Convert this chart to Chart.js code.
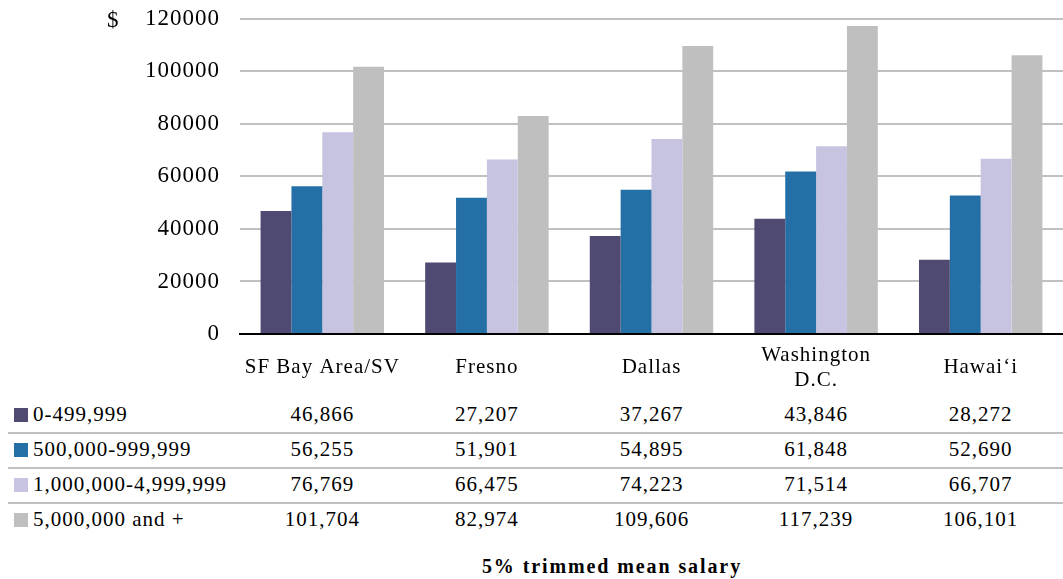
<!DOCTYPE html>
<html lang="en">
<head>
  <meta charset="UTF-8">
  <title>5% trimmed mean salary</title>
  <script src="https://cdn.jsdelivr.net/npm/chart.js"></script>
  <style>
    body { margin: 0; background: #fff; font-family: 'Liberation Serif', 'Times New Roman', serif; color: #000; }
    #wrap { position: relative; width: 1063px; height: 579px; overflow: hidden; }
    #chartBox { position: absolute; left: 0; top: -15px; width: 1063px; height: 410px; }
    .dollar { position: absolute; left: 107px; top: 7px; font-size: 23px; }
    .row { position: absolute; left: 8px; width: 1055px; height: 35px; }
    .row.sep { border-bottom: 2px solid #c0c0c0; }
    .cell { position: absolute; top: 0; line-height: 35px; font-size: 21px; letter-spacing: 1px; white-space: nowrap; }
    .swatch { position: absolute; left: 6px; top: 11px; width: 14px; height: 14px; }
    .label { left: 25px; }
    .val { transform: translateX(-50%); }
    .title { position: absolute; top: 555px; left: 0; width: 1224px; text-align: center; font-size: 20px; font-weight: bold; letter-spacing: 1.9px; }
  </style>
</head>
<body>
  <div id="wrap">
    <div id="chartBox"><canvas id="salaryChart"></canvas></div>
    <div class="dollar">$</div>
    <div id="table"></div>
    <div class="title">5% trimmed mean salary</div>
  </div>

  <script>
    const regions = ['SF Bay Area/SV', 'Fresno', 'Dallas', ['Washington', 'D.C.'], 'Hawai‘i'];
    const bands = ['0-499,999', '500,000-999,999', '1,000,000-4,999,999', '5,000,000 and +'];
    const band1 = [46866, 27207, 37267, 43846, 28272];
    const band2 = [56255, 51901, 54895, 61848, 52690];
    const band3 = [76769, 66475, 74223, 71514, 66707];
    const band4 = [101704, 82974, 109606, 117239, 106101];
    const colors = ['#4f4a71', '#2470a6', '#c7c4e2', '#bfbfbf'];
    const series = [band1, band2, band3, band4];

    const serif = "'Liberation Serif', 'Times New Roman', serif";

    const spacing = {
      id: 'spacing',
      beforeLayout: chart => { chart.ctx.letterSpacing = '1px'; },
      beforeDraw: chart => { chart.ctx.letterSpacing = '1px'; }
    };

    const chart = new Chart(document.getElementById('salaryChart').getContext('2d'), {
      type: 'bar',
      data: {
        labels: regions,
        datasets: series.map((values, i) => ({
          label: bands[i],
          data: values,
          backgroundColor: colors[i],
          categoryPercentage: 0.75,
          barPercentage: 1
        }))
      },
      options: {
        responsive: true,
        maintainAspectRatio: false,
        animation: false,
        layout: { padding: { top: 4, right: 0, left: 0, bottom: 0 } },
        plugins: { legend: { display: false }, tooltip: { enabled: false } },
        scales: {
          x: {
            grid: { display: false },
            border: { display: true, color: '#000', width: 2 },
            ticks: { color: '#000', font: { family: serif, size: 21 }, padding: 13, maxRotation: 0, autoSkip: false, crossAlign: 'center' },
            afterFit: scale => { scale.height = 61; }
          },
          y: {
            min: 0,
            max: 120000,
            ticks: { stepSize: 20000, color: '#000', padding: 20, font: { family: serif, size: 23 }, callback: v => String(v) },
            grid: { color: ctx => ctx.tick.value === 0 ? '#000' : '#c0c0c0', lineWidth: 2, drawTicks: false },
            border: { display: false },
            afterFit: scale => { scale.width = 240; }
          }
        }
      },
      plugins: [spacing]
    });

    // data table under the chart, columns aligned to the x scale
    const table = document.getElementById('table');
    const xScale = chart.scales.x;
    series.forEach((values, i) => {
      const row = document.createElement('div');
      row.className = 'row' + (i < series.length - 1 ? ' sep' : '');
      row.style.top = (397 + 35 * i) + 'px';
      row.innerHTML = `<div class="swatch" style="background:${colors[i]}"></div><div class="cell label">${bands[i]}</div>`;
      values.forEach((v, j) => {
        const cell = document.createElement('div');
        cell.className = 'cell val';
        cell.style.left = (xScale.getPixelForValue(j) - 8) + 'px';
        cell.textContent = v.toLocaleString('en-US');
        row.appendChild(cell);
      });
      table.appendChild(row);
    });
  </script>
</body>
</html>
